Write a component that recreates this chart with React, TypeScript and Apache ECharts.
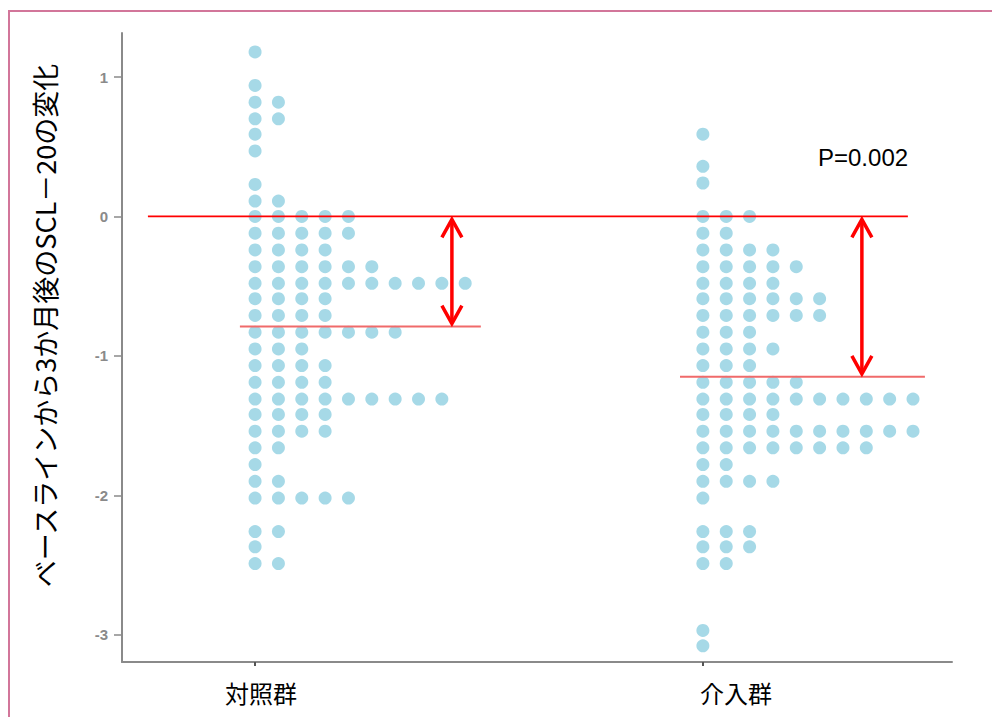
import React, { useEffect, useRef } from "react";
import * as echarts from "echarts";

// ---- data ----
const categories = ["対照群", "介入群"];
const yTickValues = [-3, -2, -1, 0, 1];
const yAxisTitle = "ベースラインから3か月後のSCL－20の変化";
const pValueText = "P=0.002";

// [change value, number of patients in that bin]
const controlRows: [number, number][] = [
  [1.18, 1], [0.94, 1], [0.82, 2], [0.7, 2], [0.59, 1], [0.47, 1], [0.23, 1], [0.11, 2],
  [0, 5], [-0.12, 5], [-0.24, 4], [-0.36, 6], [-0.48, 10], [-0.59, 4], [-0.71, 4],
  [-0.83, 7], [-0.95, 3], [-1.07, 4], [-1.19, 4], [-1.31, 9], [-1.42, 4], [-1.54, 4],
  [-1.66, 2], [-1.78, 1], [-1.9, 2], [-2.02, 5], [-2.26, 2], [-2.37, 1], [-2.49, 2],
];
const interventionRows: [number, number][] = [
  [0.59, 1], [0.36, 1], [0.24, 1], [0, 3], [-0.12, 2], [-0.24, 4], [-0.36, 5],
  [-0.48, 4], [-0.59, 6], [-0.71, 6], [-0.83, 3], [-0.95, 4], [-1.07, 3], [-1.19, 5],
  [-1.31, 10], [-1.42, 4], [-1.54, 10], [-1.66, 8], [-1.78, 2], [-1.9, 4], [-2.02, 1],
  [-2.26, 3], [-2.37, 3], [-2.49, 2], [-2.97, 1], [-3.08, 1],
];
const groupMeans = [-0.79, -1.15];

// ---- layout (x axis in units of one dot column) ----
const X_MAX = 35.55;
const groupStart = [5.7, 24.88];
const labelPos = [5.95, 26.3];
const meanExtent: [number, number][] = [[5.05, 15.37], [23.9, 34.39]];
const zeroExtent: [number, number] = [1.11, 33.66];
const arrowX = [14.13, 31.69];

function dots(rows: [number, number][], start: number) {
  const out: number[][] = [];
  rows.forEach(([v, n]) => {
    for (let i = 0; i < n; i++) out.push([start + i, v]);
  });
  return out;
}

export default function App() {
  const ref = useRef<HTMLDivElement>(null);
  useEffect(() => {
    if (!ref.current) return;
    const chart = echarts.init(ref.current, null, { renderer: "svg" });
    const gray = "#8a8a8a";
    const red = "#ff0000";
    chart.setOption({
      animation: false,
      backgroundColor: "#ffffff",
      grid: { left: 122, right: 40, top: 33, bottom: 55 },
      xAxis: {
        type: "value",
        min: 0,
        max: X_MAX,
        splitLine: { show: false },
        axisLine: { show: true, onZero: false, lineStyle: { color: gray, width: 2 } },
        axisTick: {
          show: true,
          customValues: groupStart,
          length: 4,
          lineStyle: { color: "#555", width: 2 },
        },
        axisLabel: {
          customValues: labelPos,
          formatter: (v: number) => {
            const i = labelPos.findIndex((p) => Math.abs(p - v) < 1e-6);
            return i >= 0 ? categories[i] : "";
          },
          color: "#000",
          fontSize: 24,
          fontFamily: "Noto Sans CJK JP",
          margin: 18,
        },
      },
      yAxis: {
        type: "value",
        min: -3.196,
        max: 1.316,
        name: yAxisTitle,
        nameLocation: "middle",
        nameGap: 64,
        nameRotate: 90,
        nameTextStyle: {
          color: "#000",
          fontSize: 27,
          fontFamily: "Noto Sans CJK JP",
          padding: [0, 0, 0, 44],
        },
        splitLine: { show: false },
        axisLine: { show: true, onZero: false, lineStyle: { color: gray, width: 2 } },
        axisTick: {
          show: true,
          customValues: yTickValues,
          length: 8,
          lineStyle: { color: gray, width: 1.5 },
        },
        axisLabel: {
          customValues: yTickValues,
          color: gray,
          fontSize: 15,
          fontWeight: "bold",
          fontFamily: "Liberation Sans",
          margin: 14,
        },
      },
      graphic: [
        {
          type: "rect",
          shape: { x: 9, y: 11, width: 1100, height: 900 },
          style: { fill: "none", stroke: "#d2769a", lineWidth: 2 },
          silent: true,
        },
        {
          type: "text",
          left: 818,
          top: 145,
          style: {
            text: pValueText,
            fill: "#000",
            fontSize: 24,
            fontFamily: "Liberation Sans",
          },
        },
      ],
      series: [
        {
          type: "scatter",
          name: categories[0],
          symbolSize: 13,
          itemStyle: { color: "#90cfe1" },
          data: dots(controlRows, groupStart[0]),
          z: 2,
        },
        {
          type: "scatter",
          name: categories[1],
          symbolSize: 13,
          itemStyle: { color: "#90cfe1" },
          data: dots(interventionRows, groupStart[1]),
          z: 2,
        },
        {
          type: "line",
          data: [[zeroExtent[0], 0], [zeroExtent[1], 0]],
          symbol: "none",
          lineStyle: { color: red, width: 1.8 },
          z: 3,
        },
        ...groupMeans.map((m, i) => ({
          type: "line",
          data: [[meanExtent[i][0], m], [meanExtent[i][1], m]],
          symbol: "none",
          lineStyle: { color: "#f06a6a", width: 2 },
          z: 3,
        })),
        {
          type: "custom",
          data: groupMeans.map((m, i) => [arrowX[i], 0, m]),
          z: 4,
          renderItem: (_params: any, api: any) => {
            const x = api.value(0);
            const top = api.coord([x, api.value(1)]);
            const bot = api.coord([x, api.value(2)]);
            const t = top[1] + 3;
            const b = bot[1] - 3;
            const w = 10;
            const h = 18;
            const style = { stroke: red, lineWidth: 3.5, fill: "none" };
            return {
              type: "group",
              children: [
                { type: "line", shape: { x1: top[0], y1: t + 1, x2: top[0], y2: b - 1 }, style },
                {
                  type: "polyline",
                  shape: { points: [[top[0] - w, t + h], [top[0], t], [top[0] + w, t + h]] },
                  style,
                },
                {
                  type: "polyline",
                  shape: { points: [[top[0] - w, b - h], [top[0], b], [top[0] + w, b - h]] },
                  style,
                },
              ],
            };
          },
        },
      ],
    });
    return () => chart.dispose();
  }, []);
  return (
    <div
      ref={ref}
      style={{ position: "fixed", left: 0, top: 0, width: 992, height: 717, background: "#fff" }}
    />
  );
}
